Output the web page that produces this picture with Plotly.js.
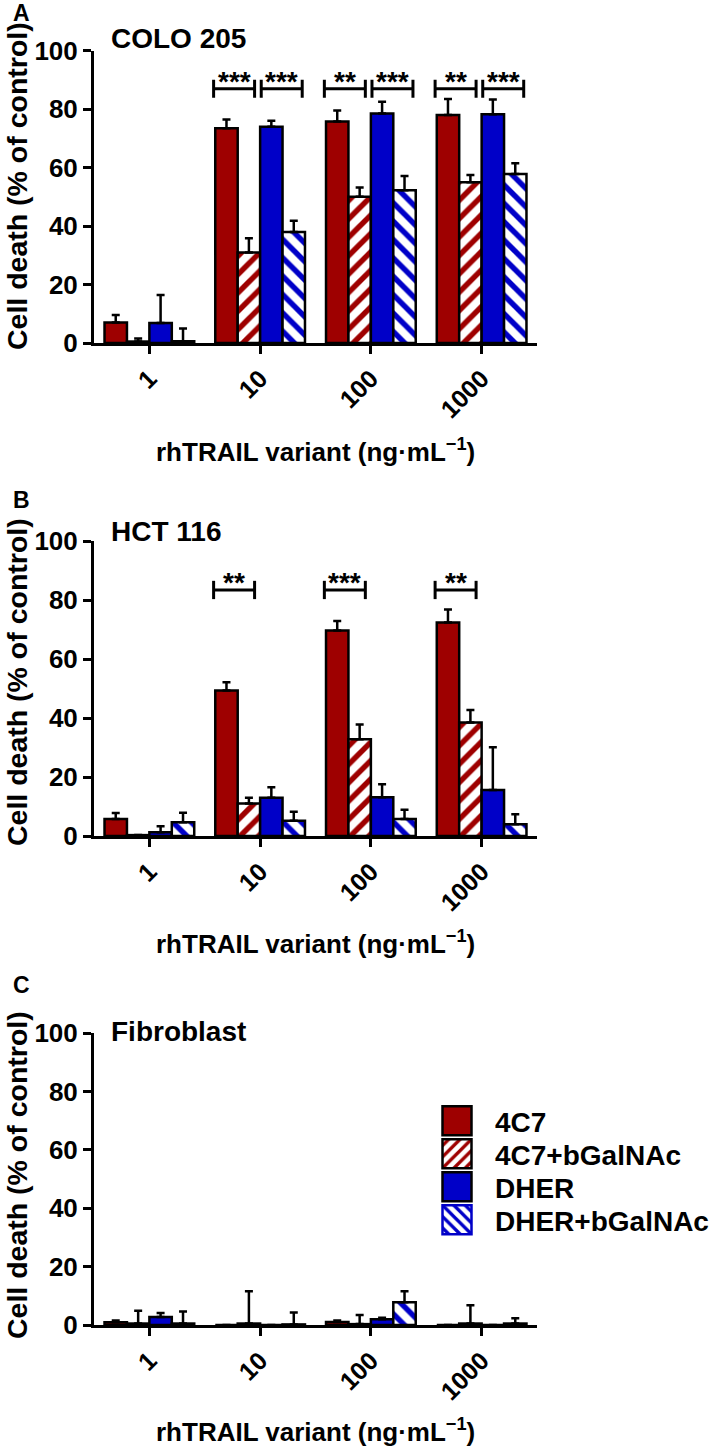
<!DOCTYPE html>
<html>
<head>
<meta charset="utf-8">
<script src="https://cdn.plot.ly/plotly-3.0.1.min.js"></script>
<style>html,body{margin:0;padding:0;background:#fff;} #chart{width:709px;height:1451px;}</style>
</head>
<body>
<div id="chart"></div>
<script>
// ---------------- DATA ----------------
const doses = ['1', '10', '100', '1000'];
const seriesNames = ['4C7', '4C7+bGalNAc', 'DHER', 'DHER+bGalNAc'];

// Panel A: COLO 205
const colo_4C7 = [7.0, 73.5, 75.8, 78.0];
const colo_4C7_err = [2.6, 3.0, 3.7, 5.5];
const colo_4C7b = [0.5, 31.0, 50.0, 55.0];
const colo_4C7b_err = [1.0, 4.8, 3.2, 2.5];
const colo_DHER = [6.8, 74.0, 78.5, 78.3];
const colo_DHER_err = [9.6, 2.0, 4.0, 5.0];
const colo_DHERb = [0.6, 38.0, 52.3, 57.8];
const colo_DHERb_err = [4.4, 3.8, 4.8, 3.7];

// Panel B: HCT 116
const hct_4C7 = [5.8, 49.3, 69.7, 72.4];
const hct_4C7_err = [2.0, 2.8, 3.2, 4.4];
const hct_4C7b = [0.3, 11.0, 32.8, 38.5];
const hct_4C7b_err = [0.0, 2.0, 5.0, 4.2];
const hct_DHER = [1.3, 13.0, 13.1, 15.6];
const hct_DHER_err = [2.0, 3.5, 4.4, 14.5];
const hct_DHERb = [4.7, 5.2, 5.8, 4.0];
const hct_DHERb_err = [3.2, 3.0, 3.1, 3.4];

// Panel C: Fibroblast
const fib_4C7 = [0.9, 0.0, 1.0, 0.0];
const fib_4C7_err = [0.6, 0.0, 0.5, 0.0];
const fib_4C7b = [0.5, 0.5, 0.3, 0.5];
const fib_4C7b_err = [4.4, 11.1, 3.1, 6.3];
const fib_DHER = [2.7, 0.0, 2.0, 0.0];
const fib_DHER_err = [1.4, 0.0, 0.5, 0.0];
const fib_DHERb = [0.5, 0.2, 7.8, 0.5];
const fib_DHERb_err = [4.1, 4.1, 3.8, 1.8];

// Significance brackets
const sigA_group = [1, 1, 2, 2, 3, 3];
const sigA_pair = [0, 1, 0, 1, 0, 1];
const sigA_label = ['***', '***', '**', '***', '**', '***'];
const sigA_level = 87;
const sigB_group = [1, 2, 3];
const sigB_pair = [0, 0, 0];
const sigB_label = ['**', '***', '**'];
const sigB_level = 83.4;

const panelLetters = ['A', 'B', 'C'];
const panelNames = ['COLO 205', 'HCT 116', 'Fibroblast'];
const yTitle = 'Cell death (% of control)';
const xTitle = 'rhTRAIL variant (ng·mL<sup>−1</sup>)';
const yTicks = [0, 20, 40, 60, 80, 100];

// ---------------- STYLE ----------------
const W = 709, H = 1451;
const FONT = 'Liberation Sans, Arial, Helvetica, sans-serif';
const RED = '#9E0000', BLUE = '#0000C8';
const px2x = p => p / W;
const px2y = p => 1 - p / H;

const panels = [
  {xa: 'x', ya: 'y', top: 50.7, bot: 343, letterY: 13, nameY: 38, yTitleY: 186, xTitleY: 450},
  {xa: 'x2', ya: 'y2', top: 541, bot: 836, letterY: 500, nameY: 531, yTitleY: 682, xTitleY: 942},
  {xa: 'x3', ya: 'y3', top: 1033, bot: 1325, letterY: 985, nameY: 1031, yTitleY: 1175, xTitleY: 1430}
];
const plotLeft = 94, plotRight = 537;
const legendShift = 19;

const panelData = [
  [[colo_4C7, colo_4C7_err], [colo_4C7b, colo_4C7b_err], [colo_DHER, colo_DHER_err], [colo_DHERb, colo_DHERb_err]],
  [[hct_4C7, hct_4C7_err], [hct_4C7b, hct_4C7b_err], [hct_DHER, hct_DHER_err], [hct_DHERb, hct_DHERb_err]],
  [[fib_4C7, fib_4C7_err], [fib_4C7b, fib_4C7b_err], [fib_DHER, fib_DHER_err], [fib_DHERb, fib_DHERb_err]]
];

const seriesStyle = [
  {color: RED},
  {color: 'white', pattern: {shape: '/', fgcolor: RED, bgcolor: 'white', size: 13, solidity: 0.42, fillmode: 'replace'}},
  {color: BLUE},
  {color: 'white', pattern: {shape: '\\', fgcolor: BLUE, bgcolor: 'white', size: 13, solidity: 0.42, fillmode: 'replace'}}
];

const traces = [];
panels.forEach((p, pi) => {
  panelData[pi].forEach((sd, si) => {
    const marker = {color: seriesStyle[si].color, line: {color: 'black', width: 2.5}};
    if (seriesStyle[si].pattern) marker.pattern = seriesStyle[si].pattern;
    traces.push({
      type: 'bar',
      name: seriesNames[si],
      legendgroup: seriesNames[si],
      showlegend: pi === 2,
      x: doses,
      y: sd[0],
      xaxis: p.xa,
      yaxis: p.ya,
      marker: marker,
      error_y: {type: 'data', array: sd[1], arrayminus: sd[1].map(() => 0), symmetric: false,
                color: 'black', thickness: 2.5, width: 4},
      hoverinfo: 'skip'
    });
  });
});

const layout = {
  width: W, height: H,
  margin: {l: 0, r: 0, t: 0, b: 0, autoexpand: false},
  paper_bgcolor: 'white', plot_bgcolor: 'white',
  barmode: 'group', bargap: 0.19, bargroupgap: 0,
  font: {family: FONT, color: 'black', weight: 'bold'},
  showlegend: true,
  legend: {
    x: px2x(419 - legendShift), xanchor: 'left', y: px2y(1096), yanchor: 'top',
    font: {family: FONT, size: 28, weight: 'bold', color: 'black'},
    itemwidth: 66, bgcolor: 'rgba(0,0,0,0)', borderwidth: 0, tracegroupgap: 0
  },
  shapes: [],
  annotations: []
};

panels.forEach((p, pi) => {
  const sfx = pi === 0 ? '' : String(pi + 1);
  layout['xaxis' + sfx] = {
    domain: [px2x(plotLeft), px2x(plotRight)],
    anchor: 'y' + sfx,
    type: 'category', categoryarray: doses, categoryorder: 'array',
    range: [-0.5, 3.5], fixedrange: true, automargin: false,
    showline: true, linewidth: 3, linecolor: 'black',
    ticks: 'outside', ticklen: 8, tickwidth: 3, tickcolor: 'black',
    tickangle: -45, tickfont: {family: FONT, size: 25, weight: 'bold', color: 'black'},
    showgrid: false, zeroline: false
  };
  layout['yaxis' + sfx] = {
    domain: [px2y(p.bot), px2y(p.top)],
    anchor: 'x' + sfx,
    range: [0, 100], fixedrange: true, automargin: false,
    tickmode: 'array', tickvals: yTicks,
    showline: true, linewidth: 3, linecolor: 'black',
    ticks: 'outside', ticklen: 8, tickwidth: 3, tickcolor: 'black',
    tickfont: {family: FONT, size: 26, weight: 'bold', color: 'black'},
    showgrid: false, zeroline: false
  };
  layout.annotations.push({text: panelLetters[pi], xref: 'paper', yref: 'paper', x: px2x(21.5), y: px2y(p.letterY),
    xanchor: 'center', yanchor: 'middle', showarrow: false, font: {family: FONT, size: 23, weight: 'bold'}});
  layout.annotations.push({text: panelNames[pi], xref: 'paper', yref: 'paper', x: px2x(109), y: px2y(p.nameY),
    xanchor: 'left', yanchor: 'middle', showarrow: false, font: {family: FONT, size: 28, weight: 'bold'}});
  layout.annotations.push({text: yTitle, xref: 'paper', yref: 'paper', x: px2x(17), y: px2y(p.yTitleY),
    xanchor: 'center', yanchor: 'middle', textangle: -90, showarrow: false, font: {family: FONT, size: 28.5, weight: 'bold'}});
  layout.annotations.push({text: xTitle, xref: 'paper', yref: 'paper', x: px2x((plotLeft + plotRight) / 2), y: px2y(p.xTitleY),
    xanchor: 'center', yanchor: 'middle', showarrow: false, font: {family: FONT, size: 26, weight: 'bold'}});
});

function addBrackets(groups, pairs, labels, level, xref, yref) {
  groups.forEach((g, i) => {
    const x0 = pairs[i] === 0 ? g - 0.42 : g + 0.01;
    const x1 = pairs[i] === 0 ? g - 0.05 : g + 0.38;
    const ln = {color: 'black', width: 3};
    layout.shapes.push({type: 'line', xref, yref, x0, x1, y0: level, y1: level, line: ln});
    layout.shapes.push({type: 'line', xref, yref, x0, x1: x0, y0: level - 3.1, y1: level + 3.1, line: ln});
    layout.shapes.push({type: 'line', xref, yref, x0: x1, x1, y0: level - 3.1, y1: level + 3.1, line: ln});
    layout.annotations.push({text: labels[i], xref, yref, x: (x0 + x1) / 2, y: level, xanchor: 'center', yanchor: 'bottom',
      yshift: -10, showarrow: false, font: {family: FONT, size: 28, weight: 'bold'}});
  });
}
addBrackets(sigA_group, sigA_pair, sigA_label, sigA_level, 'x', 'y');
addBrackets(sigB_group, sigB_pair, sigB_label, sigB_level, 'x2', 'y2');

Plotly.newPlot('chart', traces, layout, {staticPlot: true, displayModeBar: false}).then(gd => {
  const items = gd.querySelectorAll('.legend .traces');
  let y0 = null;
  items.forEach((tr, i) => {
    tr.querySelectorAll('.legendpoints path').forEach(p => {
      p.setAttribute('d', 'M14.5,14.5H-14.5V-14.5H14.5Z');
      p.style.strokeWidth = '2.5px';
      if (i === 3) p.style.stroke = BLUE;
    });
    // tighten the row spacing to match the reference (33 px per row)
    const m = /translate\(\s*([-\d.]+)[ ,]+([-\d.]+)\s*\)/.exec(tr.getAttribute('transform') || '');
    if (m) {
      if (y0 === null) y0 = parseFloat(m[2]);
      tr.setAttribute('transform', 'translate(' + m[1] + ',' + (y0 + i * 33) + ')');
    }
  });
  // move the legend box to its place in the reference (kept inside the paper for layout purposes)
  const lg = gd.querySelector('g.legend');
  if (lg) {
    const m = /translate\(\s*([-\d.]+)[ ,]+([-\d.]+)\s*\)/.exec(lg.getAttribute('transform') || '');
    if (m) lg.setAttribute('transform', 'translate(' + (parseFloat(m[1]) + legendShift) + ',' + m[2] + ')');
  }
  const bg = gd.querySelector('g.legend rect.bg');
  if (bg) bg.setAttribute('width', '400');
});
</script>
</body>
</html>
